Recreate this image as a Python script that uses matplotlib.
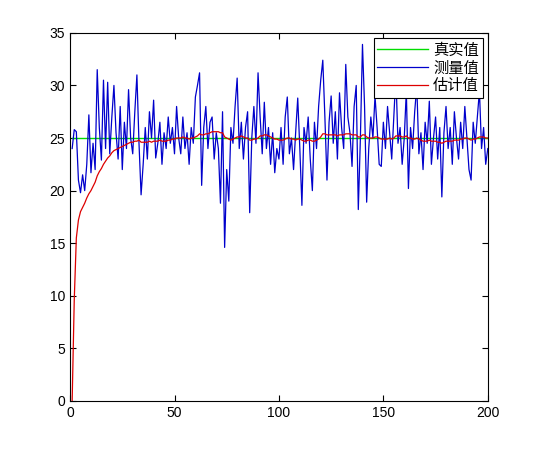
import matplotlib.pyplot as plt
import numpy as np

plt.rcParams['font.family'] = ['Liberation Sans', 'Noto Sans CJK SC', 'DejaVu Sans']

measured = [
    24.0, 25.8, 25.6, 21.0, 19.8, 21.5, 20.0, 22.5, 27.2, 21.7,
    24.5, 22.0, 31.5, 26.0, 22.9, 30.5, 24.0, 30.3, 23.5, 27.0,
    30.0, 25.5, 23.0, 28.0, 22.0, 26.5, 24.0, 29.6, 25.0, 23.5,
    27.5, 31.0, 24.5, 19.6, 22.5, 26.0, 23.0, 27.5, 25.0, 28.6,
    23.1, 24.5, 26.5, 22.5, 25.5, 24.0, 27.0, 24.5, 26.0, 23.5,
    28.0, 25.0, 23.5, 27.0, 24.0, 25.5, 22.5, 26.0, 24.5, 28.9,
    30.0, 31.2, 20.5, 26.0, 28.0, 24.0, 26.5, 27.0, 23.0, 25.5,
    24.0, 18.8, 27.5, 14.6, 22.0, 19.0, 26.0, 24.5, 28.0, 30.7,
    24.0, 26.5, 23.0, 26.0, 27.5, 17.9, 25.0, 28.0, 24.5, 31.2,
    27.0, 23.5, 28.4, 24.0, 26.0, 22.5, 25.5, 21.7, 24.0, 23.0,
    26.0, 22.5, 27.0, 28.9, 23.5, 25.0, 22.0, 25.5, 28.8, 24.0,
    18.6, 26.0, 24.5, 27.0, 23.0, 20.0, 26.5, 24.0, 28.0, 30.5,
    32.4, 27.0, 21.0, 26.5, 29.0, 24.5, 27.5, 23.0, 29.3, 26.0,
    24.0, 32.0, 27.0, 25.5, 22.3, 28.0, 30.0, 18.2, 25.0, 33.9,
    28.0, 18.9, 24.0, 27.0, 25.0, 29.0, 26.0, 22.5, 22.3, 26.5,
    24.0, 28.0, 25.5, 23.0, 27.0, 31.0, 24.5, 26.0, 22.5, 25.0,
    29.5, 20.2, 26.0, 24.0, 27.5, 30.0, 23.5, 25.5, 22.0, 26.5,
    24.5, 28.5, 22.5, 25.0, 27.0, 23.0, 26.0, 19.4, 25.5, 28.0,
    24.0, 26.0, 22.5, 27.5, 25.0, 23.0, 26.5, 24.0, 28.0, 25.0,
    22.0, 21.0, 26.5, 24.5, 27.0, 29.5, 24.0, 26.0, 22.5, 24.0,
]

# estimated values
estimate = [
    0.0, 9.6, 15.5, 17.2, 18.0, 18.4, 18.8, 19.3, 19.7, 20.0,
    20.4, 20.8, 21.4, 21.8, 22.1, 22.5, 22.8, 23.1, 23.3, 23.6,
    23.8, 23.9, 24.0, 24.1, 24.2, 24.3, 24.4, 24.5, 24.6, 24.6,
    24.7, 24.7, 24.8, 24.6, 24.6, 24.6, 24.6, 24.7, 24.6, 24.7,
    24.7, 24.7, 24.8, 24.7, 24.7, 24.7, 24.8, 24.8, 24.9, 24.9,
    25.0, 25.0, 25.0, 25.1, 25.0, 25.0, 24.9, 25.0, 25.0, 25.1,
    25.2, 25.4, 25.3, 25.3, 25.4, 25.4, 25.5, 25.6, 25.6, 25.6,
    25.6, 25.5, 25.5, 25.1, 25.0, 24.9, 24.8, 24.9, 25.0, 25.1,
    25.1, 25.2, 25.1, 25.0, 25.0, 24.8, 24.8, 24.9, 24.9, 25.0,
    25.2, 25.2, 25.3, 25.3, 25.2, 25.1, 25.0, 24.9, 24.9, 24.8,
    24.8, 24.8, 24.9, 25.0, 25.0, 24.9, 24.9, 24.8, 24.9, 24.9,
    24.8, 24.7, 24.7, 24.8, 24.8, 24.7, 24.7, 24.8, 24.9, 25.1,
    25.4, 25.4, 25.3, 25.3, 25.3, 25.3, 25.3, 25.2, 25.3, 25.3,
    25.3, 25.4, 25.4, 25.4, 25.3, 25.3, 25.3, 25.1, 25.1, 25.3,
    25.3, 25.1, 25.0, 25.0, 25.0, 25.1, 25.1, 25.0, 24.9, 24.9,
    24.9, 24.9, 25.0, 24.9, 25.0, 25.2, 25.2, 25.2, 25.1, 25.1,
    25.2, 25.0, 25.0, 24.9, 24.9, 25.0, 24.9, 24.8, 24.7, 24.7,
    24.7, 24.8, 24.7, 24.7, 24.7, 24.6, 24.6, 24.5, 24.6, 24.7,
    24.7, 24.7, 24.7, 24.8, 24.8, 24.8, 24.9, 24.9, 25.0, 25.0,
    24.9, 24.8, 24.9, 24.9, 25.0, 25.1, 25.1, 25.1, 25.0, 25.0,
]

true_value = [25.0] * len(measured)
t = np.arange(1, len(measured) + 1)

fig = plt.figure(figsize=(5.39, 4.5), dpi=100)
ax = fig.add_axes([0.13, 0.109, 0.775, 0.818])

ax.plot(t, true_value, color='#00dd00', lw=1, label='真实值')
ax.plot(t, measured, color='#0000cc', lw=0.9, label='测量值')
ax.plot(t, estimate, color='#dd0000', lw=0.9, label='估计值')

ax.set_xlim(0, 200)
ax.set_ylim(0, 35)
ax.set_xticks([0, 50, 100, 150, 200])
ax.set_yticks(np.arange(0, 36, 5))
ax.tick_params(direction='in', top=True, right=True, labelsize=10, length=4)

leg = ax.legend(loc='upper right', bbox_to_anchor=(0.988, 0.986), borderaxespad=0,
                prop={'family': ['Noto Sans CJK SC'], 'size': 11},
                fancybox=False, framealpha=1, edgecolor='black',
                handlelength=3.3, borderpad=0.25, labelspacing=0.05, handletextpad=0.35)
leg.get_frame().set_linewidth(0.8)

plt.savefig('out.png', dpi=100)
